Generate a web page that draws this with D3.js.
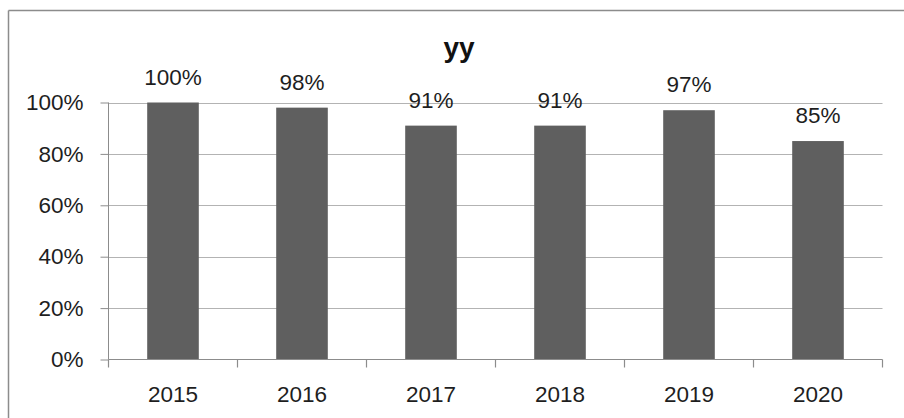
<!DOCTYPE html>
<html><head><meta charset="utf-8">
<script src="https://cdn.jsdelivr.net/npm/d3@7"></script>
<style>html,body{margin:0;padding:0;background:#fff;}svg{display:block;}</style>
</head><body>
<svg id="c" width="904" height="418"></svg>
<script>
const title = "уу";
const categories = ["2015","2016","2017","2018","2019","2020"];
const values = [1.00, 0.98, 0.91, 0.91, 0.97, 0.85];
const yTicks = [0, 0.2, 0.4, 0.6, 0.8, 1.0];

(function(){
const svg = d3.select("#c");
const font = "'Liberation Sans', Arial, sans-serif";
const fs = 22.5;
const W = 904, H = 418;
const pL = 108.5, pR = 882.5, pT = 102.5, pB = 359.5;

// chart border (top & left visible)
svg.append("line").attr("x1",8.5).attr("x2",W).attr("y1",10.5).attr("y2",10.5).attr("stroke","#8c8c8c").attr("stroke-width",1.5);
svg.append("line").attr("x1",8.5).attr("x2",8.5).attr("y1",10.5).attr("y2",H).attr("stroke","#8c8c8c").attr("stroke-width",1.5);

const x = d3.scaleBand().domain(categories).range([pL, pR]).paddingInner(0.6).paddingOuter(0.3);
const xb = d3.scaleBand().domain(categories).range([pL, pR]);
const y = d3.scaleLinear().domain([0,1]).range([pB, pT]);

// gridlines
svg.append("g").selectAll("line").data(yTicks.filter(d=>d>0)).join("line")
  .attr("x1", pL).attr("x2", pR)
  .attr("y1", d=>Math.round(y(d))+0.5).attr("y2", d=>Math.round(y(d))+0.5)
  .attr("stroke","#b3b3b3").attr("stroke-width",1.2);

// bars
svg.append("g").selectAll("rect").data(values).join("rect")
  .attr("x",(d,i)=>x(categories[i]))
  .attr("width", x.bandwidth())
  .attr("y", d=>y(d)).attr("height", d=>pB - y(d))
  .attr("fill","#5f5f5f");

// y axis
const yAxis = d3.axisLeft(y).tickValues(yTicks).tickFormat(d3.format(".0%")).tickSize(8).tickPadding(17);
const gy = svg.append("g").attr("transform",`translate(${pL},0)`).call(yAxis);
gy.select(".domain").attr("stroke","#8c8c8c").attr("d",`M0,${pT}V${pB}`);
gy.selectAll(".tick line").attr("stroke","#8c8c8c");
gy.selectAll("text").attr("font-family",font).attr("font-size",fs).attr("fill","#1e1e1e");

// x axis
const gx = svg.append("g").attr("transform",`translate(0,${pB})`);
gx.append("line").attr("x1",pL).attr("x2",pR).attr("stroke","#8c8c8c").attr("stroke-width",1.2);
const bounds = categories.map(c=>xb(c)).concat([pR]);
gx.selectAll("line.t").data(bounds).join("line").attr("class","t")
  .attr("x1",d=>d).attr("x2",d=>d).attr("y1",0).attr("y2",8).attr("stroke","#8c8c8c").attr("stroke-width",1.2);
gx.selectAll("text").data(categories).join("text")
  .attr("x", d=>xb(d)+xb.bandwidth()/2).attr("y", 42)
  .attr("text-anchor","middle").attr("font-family",font).attr("font-size",fs).attr("fill","#1e1e1e")
  .text(d=>d);

// data labels
svg.append("g").selectAll("text").data(values).join("text")
  .attr("x",(d,i)=>x(categories[i])+x.bandwidth()/2)
  .attr("y", d=>y(d)-18)
  .attr("text-anchor","middle").attr("font-family",font).attr("font-size",fs).attr("fill","#1e1e1e")
  .text(d=>d3.format(".0%")(d));

// title
svg.append("text").attr("x",459).attr("y",57).attr("text-anchor","middle")
  .attr("font-family",font).attr("font-weight","bold").attr("font-size",28).attr("fill","#111")
  .text(title);
})();
</script>
</body></html>
